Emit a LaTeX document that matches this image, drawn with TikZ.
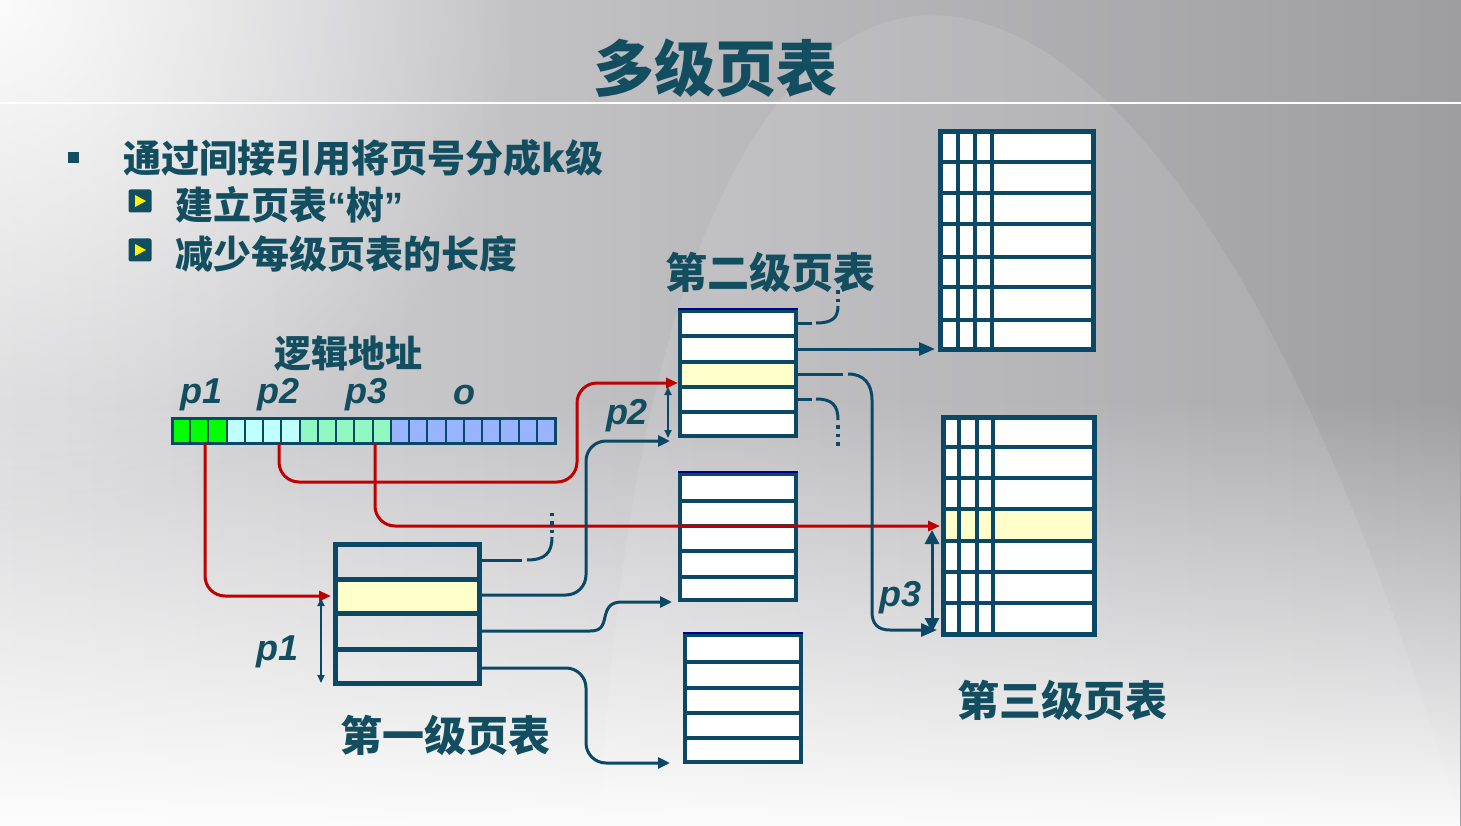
\documentclass[tikz,border=0pt]{standalone}
\usepackage{fontspec}
\setmainfont{Noto Sans CJK SC}
\newfontfamily\latf{Liberation Sans}
\usetikzlibrary{arrows.meta,fadings,calc}
\definecolor{tl}{RGB}{10,72,102}
\definecolor{tx}{RGB}{18,78,96}
\definecolor{rd}{RGB}{192,0,0}
\definecolor{yl}{RGB}{255,255,204}
\definecolor{nv}{RGB}{0,0,140}
\definecolor{cg}{RGB}{0,255,0}
\definecolor{cc}{RGB}{192,255,255}
\definecolor{cm}{RGB}{144,248,192}
\definecolor{cb}{RGB}{153,180,255}
\definecolor{bgl}{RGB}{214,214,216}
\definecolor{bgr}{RGB}{158,158,162}
\newcommand\myfs[1]{\fontsize{#1}{#1}\selectfont}
\tikzfading[name=glowfade, inner color=transparent!0, outer color=transparent!100]
\tikzfading[name=fadebottom, top color=transparent!100, bottom color=transparent!0]
\begin{document}
\begin{tikzpicture}[x=1pt,y=-1pt,
  con/.style={tl, line width=3, rounded corners=20},
  ccon/.style={tl, line width=3},
  rcon/.style={rd, line width=3, rounded corners=20, -{Triangle[length=12pt,width=10pt]}},
  bigtip/.style={-{Triangle[length=16pt,width=13pt]}},
  smalltip/.style={-{Triangle[length=12pt,width=11pt]}},
  dots/.style={tl, line width=3.2, dash pattern=on 3.5pt off 5pt},
  tbl/.style={draw=tl, inner sep=0, outer sep=0},
  captxt/.style={text=tx, font=\myfs{42}\bfseries, inner sep=0},
  plab/.style={text=tx, font=\latf\bfseries\itshape\myfs{36}, inner sep=0},
  body/.style={text=tx, font=\myfs{38}\bfseries, inner sep=0, anchor=west},
  icon/.style={fill=tx, rounded corners=2, minimum size=23, inner sep=0},
  dbl/.style={tl, line width=1.8, {Triangle[length=8pt,width=7pt]}-{Triangle[length=8pt,width=7pt]}}
]
\useasboundingbox (0,0) rectangle (1461,826);
% background
\fill[left color=bgl, right color=bgr] (0,0) rectangle (1461,826);
\fill[white, path fading=glowfade, fill opacity=0.9] (0,0) circle (520);
\fill[white, fill opacity=0.1] (600,826) .. controls (650,-255) and (1150,-255) .. (1461,826) -- cycle;
\fill[white, path fading=fadebottom, fill opacity=0.95] (0,400) rectangle (1461,826);
\draw[white, line width=2.5] (0,103) -- (1461,103);

% title and bullets
\node[text=tx, font=\myfs{61}\bfseries, inner sep=0] (title) at (715,68) {多级页表};
\node[fill=tx, minimum size=11, inner sep=0] (b0) at (73,158) {};
\node[body] (l1) at (123,158) {通过间接引用将页号分成k级};
\node[icon] (i1) at (140,201) {};
\fill[yellow] ($(i1)+(-5,-6)$) -- ($(i1)+(6,0)$) -- ($(i1)+(-5,6)$) -- cycle;
\node[body] (l2) at (175,205) {建立页表{\latf “}树{\latf ”}};
\node[icon] (i2) at (140,250) {};
\fill[yellow] ($(i2)+(-5,-6)$) -- ($(i2)+(6,0)$) -- ($(i2)+(-5,6)$) -- cycle;
\node[body] (l3) at (175,254) {减少每级页表的长度};

% logical address
\node[text=tx, font=\myfs{37}\bfseries, inner sep=0] (la) at (348,354) {逻辑地址};
\node[plab] (lp1) at (202,395) {p1};
\node[plab] (lp2) at (279,395) {p2};
\node[plab] (lp3) at (367,395) {p3};
\node[plab] (lo) at (464,395) {o};
\foreach \i in {0,...,20}{
  \pgfmathsetmacro\xa{172+\i*18.238}
  \ifnum\i<3 \def\cf{cg}\else\ifnum\i<7 \def\cf{cc}\else\ifnum\i<12 \def\cf{cm}\else\def\cf{cb}\fi\fi\fi
  \filldraw[fill=\cf, draw=tl, line width=2] (\xa,418) rectangle ++(18.238,25);
}
\node[tbl, line width=3, minimum width=383, minimum height=25] (bar) at (363.5,430.5) {};
\coordinate (a1) at (205,443);
\coordinate (a2) at (279,443);
\coordinate (a3) at (375,443);

% first-level table
\fill[yl] (335,579) rectangle (480,613);
\foreach \y in {579,613,649} \draw[tl, line width=5] (335,\y) -- (480,\y);
\node[tbl, line width=5, minimum width=144, minimum height=139] (t1) at (407.5,614) {};
\node[captxt] (c1) at (445,735) {第一级页表};

% second-level tables
\fill[white] (678,309) rectangle (798,438);
\fill[yl] (680,362) rectangle (796,387);
\foreach \y in {336,362,387,412} \draw[tl, line width=4] (680,\y) -- (796,\y);
\node[tbl, line width=4, minimum width=116, minimum height=125] (t2a) at (738,373.5) {};
\draw[nv, line width=2] (678,309) -- (798,309);

\fill[white] (678,472) rectangle (798,602);
\foreach \y in {501,526,551,577} \draw[tl, line width=4] (680,\y) -- (796,\y);
\node[tbl, line width=4, minimum width=116, minimum height=126] (t2b) at (738,537) {};
\draw[nv, line width=2] (678,472) -- (798,472);

\fill[white] (683,633) rectangle (803,764);
\foreach \y in {662,688,713,738} \draw[tl, line width=4] (685,\y) -- (801,\y);
\node[tbl, line width=4, minimum width=116, minimum height=127] (t2c) at (743,698.5) {};
\draw[nv, line width=2] (683,633) -- (803,633);
\node[captxt] (c2) at (770,272) {第二级页表};

% third-level tables
\fill[white] (938,129) rectangle (1096,352);
\foreach \y in {162,193,224,257,287,320} \draw[tl, line width=4.5] (940,\y) -- (1094,\y);
\foreach \x in {958,975,992} \draw[tl, line width=4] (\x,131) -- (\x,350);
\node[tbl, line width=5, minimum width=153, minimum height=218] (t3a) at (1017,240.5) {};

\fill[white] (941,415) rectangle (1097,637);
\fill[yl] (943,509) rectangle (1095,541);
\foreach \y in {447,478,509,541,572,603} \draw[tl, line width=4.5] (943,\y) -- (1095,\y);
\foreach \x in {959,977,993} \draw[tl, line width=4] (\x,417) -- (\x,633);
\node[tbl, line width=5, minimum width=151, minimum height=217] (t3b) at (1019,526) {};
\node[captxt] (c3) at (1062,700) {第三级页表};

% named connector ends
\coordinate (t1r1) at (482,560);
\coordinate (t1r2) at (482,595);
\coordinate (t1r3) at (482,631);
\coordinate (t1r4) at (482,668);
\coordinate (t1in) at (331,596);
\coordinate (t2in) at (678,383);
\coordinate (t2ain) at (670,441);
\coordinate (t2bin) at (672,602);
\coordinate (t2cin) at (670,763);
\coordinate (t2r1) at (798,323);
\coordinate (t2r2) at (798,349);
\coordinate (t2r3) at (798,374);
\coordinate (t2r4) at (798,399);
\coordinate (t3ain) at (935,349);
\coordinate (t3bin) at (940,526);
\coordinate (t3bbot) at (937,630);

% red connectors
\draw[rcon] (a1) -- (205,596) -- (t1in);
\draw[rcon] (a2) -- (279,482) -- (577,482) -- (577,383) -- (t2in);
\draw[rcon] (a3) -- (375,526) -- (t3bin);

% teal connectors from first level
\draw[ccon] (t1r1) -- (522,560);
\draw[ccon] (527,560) .. controls (545,560) and (552,553) .. (552,537);
\draw[dots] (552,533) -- (552,510);
\draw[con, smalltip] (t1r2) -- (586,595) -- (586,441) -- (t2ain);
\draw[ccon, smalltip] (t1r3) -- (590,631) .. controls (601,631) and (603,626) .. (605,617)
   .. controls (607,608) and (610,602) .. (622,602) -- (t2bin);
\draw[con, smalltip] (t1r4) -- (586,668) -- (586,763) -- (t2cin);

% teal connectors from second level
\draw[ccon] (t2r1) -- (812,323);
\draw[ccon] (816,323) .. controls (832,323) and (838,318) .. (838,306);
\draw[dots] (838,302) -- (838,286);
\draw[ccon, bigtip] (t2r2) -- (t3ain);
\draw[ccon] (t2r3) -- (843,374);
\draw[ccon, bigtip] (848,374) .. controls (864,374) and (872,384) .. (872,400) -- (872,612)
   .. controls (872,624) and (878,630) .. (890,630) -- (t3bbot);
\draw[ccon] (t2r4) -- (812,399);
\draw[ccon] (816,399) .. controls (832,399) and (838,405) .. (838,420);
\draw[dots] (838,425) -- (838,446);

% size arrows and labels
\draw[dbl] (321,598) -- (321,683);
\node[plab] (pp1) at (278,652) {p1};
\draw[dbl] (668,387) -- (668,438);
\node[plab] (pp2) at (627,416) {p2};
\draw[tl, line width=3, {Triangle[length=14pt,width=14pt]}-{Triangle[length=14pt,width=14pt]}] (932,530) -- (932,632);
\node[plab] (pp3) at (900,598) {p3};
\end{tikzpicture}
\end{document}
